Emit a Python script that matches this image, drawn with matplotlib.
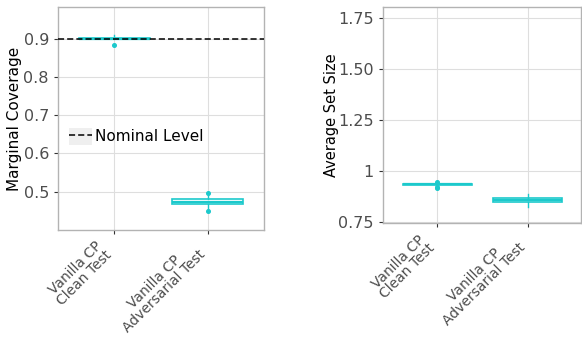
import matplotlib
matplotlib.use("Agg")
import matplotlib.pyplot as plt
from matplotlib.patches import Patch
from matplotlib.lines import Line2D

categories = ["Vanilla CP\nClean Test", "Vanilla CP\nAdversarial Test"]

# coverage box stats
cov_q1 = [0.898, 0.469]
cov_med = [0.900, 0.473]
cov_q3 = [0.902, 0.480]
cov_lo = [0.898, 0.449]
cov_hi = [0.910, 0.498]
cov_fliers = [[0.884], [0.449, 0.498]]
nominal = 0.9

# set size box stats
size_q1 = [0.934, 0.849]
size_med = [0.936, 0.857]
size_q3 = [0.938, 0.866]
size_lo = [0.917, 0.825]
size_hi = [0.950, 0.890]
size_fliers = [[0.917, 0.922, 0.946], []]

size_ticks = [0.75, 1.0, 1.25, 1.5, 1.75]
size_ticklabels = ["0.75", "1", "1.25", "1.50", "1.75"]

col = "#1cc9cc"
grey = "#4d4d4d"

fig = plt.figure(figsize=(5.82, 3.38), dpi=100)
ax1 = fig.add_axes([0.0997, 0.3195, 0.354, 0.66])
ax2 = fig.add_axes([0.658, 0.340, 0.340, 0.639])


def stats(q1, med, q3, lo, hi, fl):
    out = []
    for i in range(len(q1)):
        out.append(dict(q1=q1[i], med=med[i], q3=q3[i], whislo=lo[i], whishi=hi[i], fliers=fl[i]))
    return out


def draw_box(ax, st):
    ax.bxp(st, positions=range(len(st)), widths=0.76, patch_artist=True, showcaps=False,
           boxprops=dict(facecolor="white", edgecolor=col, linewidth=1.2),
           medianprops=dict(color=col, linewidth=1.6),
           whiskerprops=dict(color=col, linewidth=1.0),
           flierprops=dict(marker="o", markerfacecolor=col, markeredgecolor=col, markersize=2.6),
           zorder=3)


draw_box(ax1, stats(cov_q1, cov_med, cov_q3, cov_lo, cov_hi, cov_fliers))
ax1.axhline(nominal, color="black", linestyle=(0, (4, 2)), linewidth=1.1, zorder=4)
ax1.set_xlim(-0.6, 1.6)
ax1.set_ylim(0.40, 0.983)
ax1.set_yticks([0.5, 0.6, 0.7, 0.8, 0.9])
ax1.set_ylabel("Marginal Coverage", fontsize=11)
ax1.yaxis.set_label_coords(-0.175, 0.5)

key_bg = Patch(facecolor="#efefef", edgecolor="none")
key_line = Line2D([], [], color="black", linestyle=(0, (4, 2)), linewidth=1.1)
ax1.legend([(key_bg, key_line)], ["Nominal Level"], loc="center left", bbox_to_anchor=(0.0, 0.42),
           frameon=False, fontsize=11, handlelength=1.5, handleheight=1.3,
           handletextpad=0.15, borderaxespad=0.35)

draw_box(ax2, stats(size_q1, size_med, size_q3, size_lo, size_hi, size_fliers))
ax2.set_xlim(-0.6, 1.59)
ax2.set_ylim(0.745, 1.805)
ax2.set_yticks(size_ticks)
ax2.set_yticklabels(size_ticklabels)
ax2.set_ylabel("Average Set Size", fontsize=10.5)
ax2.yaxis.set_label_coords(-0.22, 0.5)

for ax in (ax1, ax2):
    ax.set_xticks(range(len(categories)))
    ax.set_xticklabels(categories, rotation=45, ha="right", va="top", rotation_mode="default",
                       multialignment="center", fontsize=10, color=grey, linespacing=0.9)
    ax.tick_params(axis="y", labelsize=11.5, labelcolor=grey, color="#333333", length=3)
    ax.tick_params(axis="x", color="#333333", length=3, pad=3)
    ax.grid(True, color="#dedede", linewidth=0.8)
    ax.set_axisbelow(True)
    for s in ax.spines.values():
        s.set_color("#b3b3b3")
        s.set_linewidth(1.0)

fig.savefig("out.png", dpi=100)
